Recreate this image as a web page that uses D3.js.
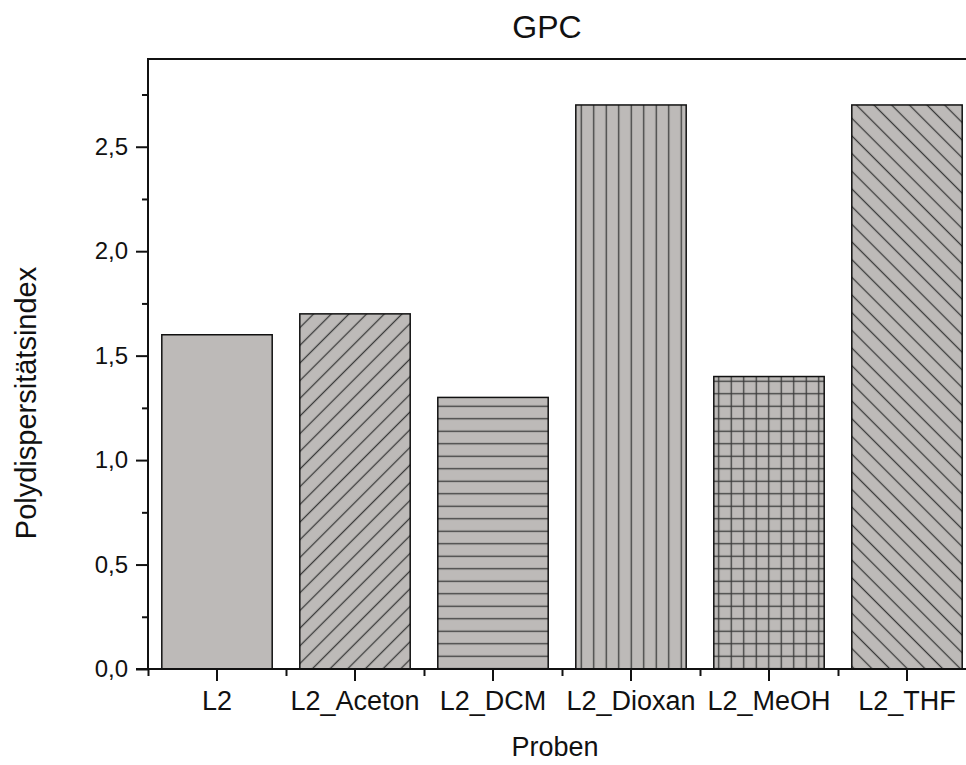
<!DOCTYPE html>
<html><head><meta charset="utf-8">
<script src="https://cdn.jsdelivr.net/npm/d3@7"></script>
<style>body{margin:0;background:#fff;} svg{display:block;font-family:"Liberation Sans",Arial,sans-serif;}</style>
</head><body>
<svg id="c" width="966" height="765"></svg>
<script>
const categories = ["L2","L2_Aceton","L2_DCM","L2_Dioxan","L2_MeOH","L2_THF"];
const values = [1.6,1.7,1.3,2.7,1.4,2.7];
const yMajorTicks = [0,0.5,1.0,1.5,2.0,2.5];
const yMinorTicks = [0.25,0.75,1.25,1.75,2.25,2.75];
const hatches = ["none","slash","horiz","vert","grid","backslash"];

const svg = d3.select("#c");
const L=148, R=976, T=59, B=669;
const x = d3.scaleBand().domain(categories).range([L,R]).paddingInner(0.2).paddingOuter(0.1);
const y = d3.scaleLinear().domain([0,2.92]).range([B,T]);

const defs = svg.append("defs");
const fill="#bdbab8", hc="#3a3a3a", hw=1.3, sp=12.5;
function pat(id, rot, lines){
  const p = defs.append("pattern").attr("id",id).attr("patternUnits","userSpaceOnUse")
    .attr("width",sp).attr("height",sp);
  if(rot) p.attr("patternTransform",`rotate(${rot})`);
  p.append("rect").attr("width",sp).attr("height",sp).attr("fill",fill);
  lines.forEach(l=>p.append("line").attr("x1",l[0]).attr("y1",l[1]).attr("x2",l[2]).attr("y2",l[3]).attr("stroke",hc).attr("stroke-width",hw));
}
pat("slash",45,[[sp/2,-1,sp/2,sp+1]]);
pat("backslash",-45,[[sp/2,-1,sp/2,sp+1]]);
pat("vert",0,[[sp/2,-1,sp/2,sp+1]]);
pat("horiz",0,[[-1,sp/2,sp+1,sp/2]]);
pat("grid",0,[[sp/2,-1,sp/2,sp+1],[-1,sp/2,sp+1,sp/2]]);

// bars
svg.append("g").selectAll("rect").data(categories).join("rect")
  .attr("x",d=>x(d)).attr("width",x.bandwidth())
  .attr("y",(d,i)=>y(values[i])).attr("height",(d,i)=>B-y(values[i]))
  .attr("fill",(d,i)=>hatches[i]==="none"?fill:`url(#${hatches[i]})`)
  .attr("stroke","#111").attr("stroke-width",1.5);

// frame lines
svg.append("line").attr("x1",L).attr("x2",R).attr("y1",T).attr("y2",T).attr("stroke","#111").attr("stroke-width",2);
svg.append("line").attr("x1",R).attr("x2",R).attr("y1",T).attr("y2",B).attr("stroke","#111").attr("stroke-width",2);

// y axis
const fmt = v => d3.format(".1f")(v).replace(".",",");
const ya = svg.append("g").attr("transform",`translate(${L},0)`)
  .call(d3.axisLeft(y).tickValues(yMajorTicks).tickFormat(fmt).tickSize(12).tickPadding(8));
ya.selectAll("text").attr("font-size",24).attr("fill","#111").attr("font-family","'Liberation Sans',Arial,sans-serif");
const ym = svg.append("g").attr("transform",`translate(${L},0)`)
  .call(d3.axisLeft(y).tickValues(yMinorTicks).tickFormat("").tickSize(6));
[ya,ym].forEach(g=>{g.select(".domain").remove();g.selectAll("line").attr("stroke","#111").attr("stroke-width",2);});
svg.append("line").attr("x1",L).attr("x2",L).attr("y1",T-1).attr("y2",B+1).attr("stroke","#111").attr("stroke-width",2);

// x axis
const xa = svg.append("g").attr("transform",`translate(0,${B})`)
  .call(d3.axisBottom(x).tickSize(12).tickPadding(10));
xa.select(".domain").remove();
xa.selectAll("line").attr("stroke","#111").attr("stroke-width",2);
xa.selectAll("text").attr("font-size",27).attr("fill","#111").attr("font-family","'Liberation Sans',Arial,sans-serif");
const xMinor = d3.scaleLinear().domain([0,categories.length]).range([L, L + x.step()*categories.length]);
svg.append("g").attr("transform",`translate(0,${B})`)
  .call(d3.axisBottom(xMinor).tickValues(d3.range(0,categories.length+1)).tickFormat("").tickSize(7))
  .call(g=>{g.select(".domain").remove();g.selectAll("line").attr("stroke","#111").attr("stroke-width",2);});
svg.append("line").attr("x1",L-12).attr("x2",R).attr("y1",B).attr("y2",B).attr("stroke","#111").attr("stroke-width",2);

// titles
svg.append("text").attr("x",547).attr("y",38).attr("text-anchor","middle").attr("font-size",32).attr("fill","#111").text("GPC");
svg.append("text").attr("x",555).attr("y",756).attr("text-anchor","middle").attr("font-size",27).attr("fill","#111").text("Proben");
svg.append("text").attr("transform","translate(36,403) rotate(-90)").attr("text-anchor","middle").attr("font-size",29).attr("fill","#111").text("Polydispersitätsindex");
</script>
</body></html>
